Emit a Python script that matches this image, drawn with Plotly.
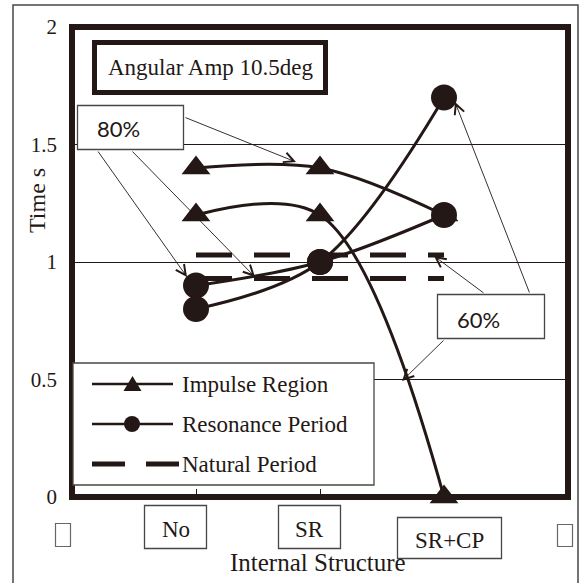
import plotly.graph_objects as go

# ---- data -------------------------------------------------------------
categories = ["No", "SR", "SR+CP"]
cat_pos = [1, 2, 3]

impulse_80 = [1.4, 1.4, 1.2]
impulse_60 = [1.2, 1.2, 0.0]
resonance_80 = [0.9, 1.0, 1.2]
resonance_60 = [0.8, 1.0, 1.7]
natural_80 = [0.93, 0.93, 0.93]
natural_60 = [1.03, 1.03, 1.03]

y_tickvals = [0, 0.5, 1, 1.5, 2]
y_ticktext = ["0", "0.5", "1", "1.5", "2"]

# ---- styling ----------------------------------------------------------
INK = "#231815"
FRAME = "#4a4546"
SERIF = "Liberation Serif, Times New Roman, serif"
W, H = 581, 583
ML, MR, MT, MB = 72, 13, 27, 86
PW, PH = W - ML - MR, H - MT - MB


def px(x):
    """page x (pixels) -> paper x"""
    return (x - ML) / PW


def py(y):
    """page y (pixels) -> paper y"""
    return (H - MB - y) / PH


fig = go.Figure()

for vals in (natural_80, natural_60):
    fig.add_trace(go.Scatter(
        x=cat_pos, y=vals, mode="lines",
        line=dict(color=INK, width=5, dash="36px,22px"),
        showlegend=False, hoverinfo="skip"))

for vals in (resonance_80, resonance_60):
    fig.add_trace(go.Scatter(
        x=cat_pos, y=vals, mode="lines+markers",
        line=dict(color=INK, width=3, shape="spline", smoothing=1),
        marker=dict(symbol="circle", size=26, color=INK),
        cliponaxis=False, showlegend=False))

for vals in (impulse_80, impulse_60):
    fig.add_trace(go.Scatter(
        x=cat_pos, y=vals, mode="lines+markers",
        line=dict(color=INK, width=3, shape="spline", smoothing=1),
        marker=dict(symbol="triangle-up", size=25, color=INK),
        cliponaxis=False, showlegend=False))

shapes = []
annotations = []

# outer frame of the figure (runs off the bottom)
shapes.append(dict(type="rect", xref="paper", yref="paper",
                   x0=px(13), x1=px(578), y0=py(600), y1=py(5),
                   line=dict(color=FRAME, width=1.5), layer="below"))
# heavy plot border
shapes.append(dict(type="rect", xref="paper", yref="paper",
                   x0=0, x1=1, y0=0, y1=1,
                   line=dict(color=INK, width=6), layer="above"))


def box(x0, y0, x1, y1, width=1.3, color=FRAME):
    shapes.append(dict(type="rect", xref="paper", yref="paper",
                       x0=px(x0), x1=px(x1), y0=py(y1), y1=py(y0),
                       line=dict(color=color, width=width),
                       fillcolor="white", layer="above"))


def label(x, y, text, size=23, family=SERIF, xanchor="center", angle=0):
    annotations.append(dict(xref="paper", yref="paper", x=px(x), y=py(y),
                            text=text, showarrow=False, xanchor=xanchor,
                            yanchor="middle", textangle=angle,
                            font=dict(family=family, size=size, color=INK)))


# title box
box(94.5, 42.5, 325.5, 92.5, width=5, color=INK)
label(211, 67, "Angular Amp 10.5deg")

# fill-ratio call-outs
box(77.5, 105.5, 183.5, 149.5)
label(95, 128, "80%", size=22, family="Lato, sans-serif", xanchor="left")
box(437.5, 294.5, 544.5, 338.5)
label(455, 319, "60%", size=22, family="Lato, sans-serif", xanchor="left")


def arrow(tail, head):
    annotations.append(dict(
        xref="x", yref="y", axref="x", ayref="y",
        x=(head[0] - ML) / (PW / 4), y=(H - MB - head[1]) / (PH / 2),
        ax=(tail[0] - ML) / (PW / 4), ay=(H - MB - tail[1]) / (PH / 2),
        text="", showarrow=True, arrowhead=5, arrowsize=2.2,
        arrowwidth=0.9, arrowcolor=INK, standoff=0, startstandoff=0))


arrow((184, 117), (296, 162))
arrow((97, 150), (187, 277))
arrow((131, 150), (255, 277))
arrow((485, 294), (434, 256))
arrow((530, 294), (455, 102))
arrow((445, 339), (402, 381))

# legend panel
box(73, 363, 374, 485)
legend_rows = [("Impulse Region", 384, "triangle"),
               ("Resonance Period", 424, "circle"),
               ("Natural Period", 464, "dash")]
for text, yy, kind in legend_rows:
    if kind == "dash":
        for a, b in ((92, 125), (146, 179)):
            shapes.append(dict(type="line", xref="paper", yref="paper",
                               x0=px(a), x1=px(b), y0=py(yy), y1=py(yy),
                               line=dict(color=INK, width=5), layer="above"))
    else:
        shapes.append(dict(type="line", xref="paper", yref="paper",
                           x0=px(92), x1=px(173), y0=py(yy), y1=py(yy),
                           line=dict(color=INK, width=2.5), layer="above"))
        if kind == "circle":
            shapes.append(dict(type="circle", xref="paper", yref="paper",
                               x0=px(124), x1=px(140), y0=py(yy + 8), y1=py(yy - 8),
                               fillcolor=INK, line=dict(color=INK, width=0),
                               layer="above"))
        else:
            path = "M {:.4f} {:.4f} L {:.4f} {:.4f} L {:.4f} {:.4f} Z".format(
                px(123.5), py(yy + 7), px(141.5), py(yy + 7), px(132.5), py(yy - 8))
            shapes.append(dict(type="path", xref="paper", yref="paper", path=path,
                               fillcolor=INK, line=dict(color=INK, width=0),
                               layer="above"))
    label(180, yy, text, xanchor="left")

# boxed category labels under the axis
cat_boxes = [(144, 505, 207, 549), (278, 505, 341, 549), (397, 517, 502, 559)]
for name, (x0, y0, x1, y1) in zip(categories, cat_boxes):
    box(x0 + 0.5, y0 + 0.5, x1 - 0.5, y1 - 0.5)
    label((x0 + x1) / 2, (y0 + y1) / 2 + 2, name)
# end ticks whose labels show as empty glyph boxes
box(55.5, 523.5, 70.5, 546.5, width=1.2, color="#6b6666")
box(557.5, 524.5, 572.5, 546.5, width=1.2, color="#6b6666")

# axis titles
label(318, 562, "Internal Structure", size=25)
label(37, 201, "Time s", size=24, angle=-90)

fig.update_layout(
    width=W, height=H,
    margin=dict(l=ML, r=MR, t=MT, b=MB),
    paper_bgcolor="white", plot_bgcolor="white",
    showlegend=False,
    shapes=shapes, annotations=annotations,
    xaxis=dict(range=[0, 4], tickvals=cat_pos, showticklabels=False,
               ticks="inside", ticklen=8, tickcolor=INK, tickwidth=1,
               showgrid=False, zeroline=False, showline=False, fixedrange=True),
    yaxis=dict(range=[0, 2], tickvals=y_tickvals, ticktext=y_ticktext,
               tickfont=dict(family=SERIF, size=21, color=INK),
               ticks="", ticklabelstandoff=14,
               showgrid=True, gridcolor=INK, gridwidth=1,
               zeroline=False, showline=False, fixedrange=True),
)

fig.write_html("out.html")
